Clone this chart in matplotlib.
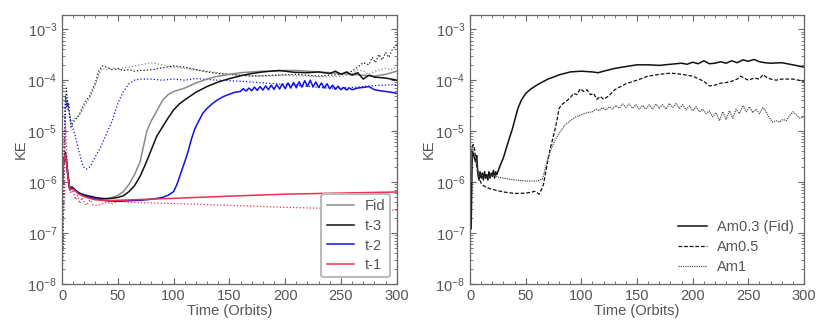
import matplotlib.pyplot as plt
from matplotlib.ticker import MultipleLocator, LogLocator

plt.rcParams['font.family'] = ['Liberation Sans', 'DejaVu Sans']
plt.rcParams['font.size'] = 10.5
plt.rcParams['text.color'] = '#555555'
plt.rcParams['axes.labelcolor'] = '#555555'
plt.rcParams['xtick.color'] = '#666666'
plt.rcParams['ytick.color'] = '#666666'
plt.rcParams['xtick.labelcolor'] = '#555555'
plt.rcParams['ytick.labelcolor'] = '#555555'

# ---- left panel: resolution runs (solid = KE, dotted = second quantity) ----
fid_t = [0, 1, 2, 3, 4, 5, 7, 9, 12, 15, 20, 25, 30, 35, 40, 45, 50, 55, 60, 65,
         70, 73, 76, 80, 85, 90, 95, 100, 110, 120, 130, 140, 150, 160, 170, 180,
         190, 200, 210, 220, 230, 240, 250, 260, 270, 280, 290, 300]
fid_ke = [8e-7, 2e-6, 3e-6, 3.5e-6, 2.5e-6, 1.5e-6, 7.5e-7, 8e-7, 7e-7, 6e-7,
          5.5e-7, 5e-7, 4.8e-7, 4.7e-7, 4.8e-7, 5e-7, 5.5e-7, 6.5e-7, 9e-7, 1.4e-6,
          2.5e-6, 5e-6, 1e-5, 1.6e-5, 2.5e-5, 4e-5, 5.2e-5, 6e-5, 7e-5, 8.8e-5,
          1.05e-4, 1.2e-4, 1.3e-4, 1.4e-4, 1.45e-4, 1.5e-4, 1.5e-4, 1.55e-4, 1.55e-4,
          1.5e-4, 1.45e-4, 1.4e-4, 1.35e-4, 1.3e-4, 1.25e-4, 1.2e-4, 1.3e-4, 1.5e-4]

t3_t = [0, 1, 2, 3, 4, 5, 7, 9, 12, 15, 20, 25, 30, 35, 40, 45, 50, 55, 60, 65,
        70, 75, 80, 85, 90, 95, 100, 105, 110, 120, 130, 140, 150, 160, 170, 180,
        190, 195, 200, 205, 210, 220, 230, 240, 245, 250, 255, 260, 265, 270, 275,
        280, 290, 300]
t3_ke = [8e-7, 2e-6, 3e-6, 3.8e-6, 2.7e-6, 1.6e-6, 7.5e-7, 8e-7, 7e-7, 6.2e-7,
         5.6e-7, 5.3e-7, 5e-7, 4.8e-7, 4.7e-7, 4.8e-7, 5e-7, 5.4e-7, 6.5e-7, 8.5e-7,
         1.3e-6, 2.3e-6, 4.3e-6, 8e-6, 1.2e-5, 1.8e-5, 2.6e-5, 3.4e-5, 4.1e-5, 5.8e-5,
         7.5e-5, 9.2e-5, 1.07e-4, 1.22e-4, 1.35e-4, 1.45e-4, 1.52e-4, 1.55e-4, 1.5e-4,
         1.45e-4, 1.42e-4, 1.4e-4, 1.45e-4, 1.35e-4, 1.5e-4, 1.3e-4, 1.45e-4, 1.25e-4,
         1.4e-4, 1.05e-4, 1.25e-4, 1.15e-4, 1.1e-4, 1.0e-4]

t2_t = [0, 1, 2, 3, 4, 5, 7, 9, 12, 15, 20, 25, 30, 35, 40, 50, 60, 70, 80, 90,
        95, 100, 103, 106, 110, 113, 116, 119, 122, 126, 130, 135, 140, 145, 150,
        155, 160, 162.5, 165, 167.5, 170, 172.5, 175, 177.5, 180, 182.5, 185, 187.5,
        190, 192.5, 195, 197.5, 200, 202.5, 205, 207.5, 210, 212.5, 215, 217.5, 220,
        222.5, 225, 227.5, 230, 232.5, 235, 237.5, 240, 242.5, 245, 247.5, 250,
        252.5, 255, 257.5, 260, 265, 270, 275, 280, 285, 290, 295, 300]
t2_ke = [8e-7, 2e-6, 3e-6, 3.5e-6, 2.5e-6, 1.5e-6, 7e-7, 7.5e-7, 6.8e-7, 6e-7,
         5.3e-7, 5e-7, 4.7e-7, 4.5e-7, 4.3e-7, 4.2e-7, 4.3e-7, 4.4e-7, 4.6e-7, 5e-7,
         5.5e-7, 6.5e-7, 9e-7, 1.4e-6, 2.5e-6, 4e-6, 7e-6, 1.1e-5, 1.5e-5, 2.2e-5,
         2.8e-5, 3.5e-5, 4.2e-5, 4.8e-5, 5.3e-5, 5.8e-5, 6.0e-5, 6.8e-5, 6.1e-5,
         7.0e-5, 6.2e-5, 7.3e-5, 6.3e-5, 7.5e-5, 6.4e-5, 7.7e-5, 6.5e-5, 8.0e-5,
         6.6e-5, 8.2e-5, 6.7e-5, 8.5e-5, 6.8e-5, 8.8e-5, 7.0e-5, 9.0e-5, 7.1e-5,
         9.3e-5, 7.3e-5, 9.8e-5, 7.5e-5, 1.0e-4, 7.4e-5, 9.2e-5, 7.2e-5, 8.8e-5,
         7.0e-5, 8.5e-5, 6.8e-5, 8.0e-5, 6.6e-5, 7.6e-5, 6.5e-5, 7.2e-5, 6.4e-5,
         7.0e-5, 6.5e-5, 7.0e-5, 7.2e-5, 7.5e-5, 6.5e-5, 6.2e-5, 6.0e-5, 5.8e-5, 5.5e-5]

t1_t = [0, 1, 2, 3, 4, 5, 7, 9, 12, 15, 20, 25, 30, 35, 40, 50, 75, 100, 150,
        200, 250, 300]
t1_ke = [8e-7, 2e-6, 3e-6, 3.5e-6, 2.5e-6, 1.5e-6, 7e-7, 7.5e-7, 6.7e-7, 5.8e-7,
         5.2e-7, 4.8e-7, 4.5e-7, 4.4e-7, 4.3e-7, 4.4e-7, 4.6e-7, 4.8e-7, 5.3e-7,
         5.8e-7, 6.1e-7, 6.4e-7]

fid_dot_t = [0, 1, 2, 3, 4, 5, 6, 7, 8, 10, 12, 15, 18, 20, 25, 30, 33, 36, 40,
             45, 50, 55, 60, 65, 70, 75, 80, 85, 90, 100, 110, 120, 130, 140, 150,
             160, 180, 200, 220, 240, 250, 260, 265, 270, 275, 280, 285, 290, 295, 300]
fid_dot = [1e-8, 1e-7, 2e-6, 2e-5, 4e-5, 2.5e-5, 3e-5, 2e-5, 1.5e-5, 1.7e-5,
           1.8e-5, 2e-5, 2.5e-5, 3e-5, 4.5e-5, 8e-5, 1.3e-4, 1.7e-4, 1.6e-4, 1.75e-4,
           1.6e-4, 1.75e-4, 1.8e-4, 1.9e-4, 2e-4, 2.1e-4, 2.2e-4, 2.1e-4, 2e-4, 1.8e-4,
           1.7e-4, 1.6e-4, 1.5e-4, 1.4e-4, 1.3e-4, 1.25e-4, 1.2e-4, 1.25e-4, 1.2e-4,
           1.15e-4, 1.2e-4, 1.3e-4, 1.6e-4, 1.5e-4, 1.3e-4, 1.5e-4, 1.6e-4, 1.7e-4,
           1.6e-4, 1.8e-4]

t3_dot_t = [0, 1, 2, 3, 4, 5, 6, 7, 8, 10, 12, 15, 18, 20, 25, 30, 33, 36, 40, 45,
            50, 55, 60, 65, 70, 80, 90, 100, 110, 120, 130, 140, 150, 170, 190, 210,
            230, 250, 260, 265, 270, 275, 278, 281, 284, 287, 290, 293, 296, 300]
t3_dot = [1e-8, 1e-7, 3e-6, 3e-5, 7e-5, 3e-5, 3.5e-5, 2e-5, 1.2e-5, 1.5e-5,
          1.7e-5, 2e-5, 2.8e-5, 3.5e-5, 5e-5, 9e-5, 1.5e-4, 1.9e-4, 1.8e-4, 1.6e-4,
          1.7e-4, 1.55e-4, 1.6e-4, 1.5e-4, 1.55e-4, 1.6e-4, 1.75e-4, 1.9e-4, 1.8e-4,
          1.6e-4, 1.45e-4, 1.35e-4, 1.3e-4, 1.2e-4, 1.25e-4, 1.3e-4, 1.2e-4, 1.3e-4,
          1.5e-4, 1.8e-4, 2.2e-4, 2e-4, 2.8e-4, 2.2e-4, 3.2e-4, 2.5e-4, 3.5e-4,
          2.8e-4, 4e-4, 5e-4]

t2_dot_t = [0, 1, 2, 3, 4, 5, 6, 8, 10, 12, 14, 16, 18, 20, 22, 25, 28, 30, 35,
            40, 45, 50, 55, 60, 65, 70, 80, 90, 100, 110, 120, 130, 140, 150, 170,
            190, 210, 230, 240, 250, 260, 270, 280, 290, 300]
t2_dot = [1e-8, 1e-7, 5e-6, 5e-5, 3e-5, 4e-5, 2.5e-5, 1.5e-5, 1.1e-5, 8e-6, 5e-6,
          3.5e-6, 2.3e-6, 1.9e-6, 1.8e-6, 2e-6, 2.6e-6, 3.2e-6, 5e-6, 9e-6, 1.6e-5,
          3.5e-5, 6e-5, 8.5e-5, 1.0e-4, 1.05e-4, 1.05e-4, 1.0e-4, 1.05e-4, 1.0e-4,
          1.08e-4, 1.03e-4, 1.0e-4, 9.8e-5, 9.2e-5, 8.5e-5, 8e-5, 7.2e-5, 7e-5, 7e-5,
          7.2e-5, 7.5e-5, 7.8e-5, 8e-5, 8.2e-5]

t1_dot_t = [0, 1, 2, 3, 4, 5, 6, 8, 10, 12, 14, 16, 18, 20, 22, 25, 28, 31, 35,
            40, 45, 50, 60, 80, 100, 150, 200, 250, 300]
t1_dot = [1e-8, 1e-7, 1e-6, 1.5e-5, 5e-6, 2e-6, 8e-7, 6e-7, 7e-7, 4.5e-7, 5.5e-7,
          3.8e-7, 5e-7, 4e-7, 3.5e-7, 4.5e-7, 3.6e-7, 3.5e-7, 3.7e-7, 4e-7, 3.8e-7,
          4.2e-7, 4e-7, 3.9e-7, 3.8e-7, 3.5e-7, 3.2e-7, 3e-7, 2.8e-7]

# ---- right panel: Am runs ----
am03_t = [0, 1, 2, 3, 4, 5, 6, 7, 8, 9, 10, 11, 12, 13, 14, 15, 16, 17, 18, 19,
          20, 21, 22, 23, 24, 25, 27, 30, 33, 36, 38, 40, 43, 46, 50, 55, 60, 65,
          70, 75, 80, 90, 100, 110, 115, 120, 130, 140, 150, 160, 170, 180, 190,
          195, 200, 205, 210, 215, 220, 225, 230, 235, 240, 245, 250, 255, 260, 265,
          270, 280, 290, 300]
am03 = [3e-6, 1.2e-7, 4e-6, 3.5e-6, 3e-6, 2.5e-6, 3.3e-6, 1.5e-6, 1.1e-6, 1.6e-6,
        1.2e-6, 1.5e-6, 1.1e-6, 1.6e-6, 1.2e-6, 1.4e-6, 1.1e-6, 1.6e-6, 1.2e-6,
        1.5e-6, 1.3e-6, 1.7e-6, 1.2e-6, 1.6e-6, 1.4e-6, 1.6e-6, 2.1e-6, 3e-6, 5e-6,
        8e-6, 1.1e-5, 1.6e-5, 2.8e-5, 4e-5, 5.5e-5, 6.8e-5, 8e-5, 9.2e-5, 1.05e-4,
        1.15e-4, 1.27e-4, 1.45e-4, 1.5e-4, 1.45e-4, 1.4e-4, 1.5e-4, 1.7e-4, 1.85e-4,
        2e-4, 2e-4, 1.95e-4, 2.05e-4, 2.15e-4, 2.05e-4, 2.25e-4, 2.1e-4, 2.4e-4,
        2.1e-4, 2.15e-4, 2.3e-4, 2.15e-4, 2.4e-4, 2.2e-4, 2.5e-4, 2.35e-4, 2.55e-4,
        2.3e-4, 2.2e-4, 2.15e-4, 2.2e-4, 2e-4, 1.8e-4]

am05_t = [0, 1, 2, 3, 4, 5, 6, 8, 10, 12, 15, 20, 25, 30, 35, 40, 45, 50, 55, 58,
          60, 62, 64, 66, 68, 70, 72, 74, 76, 78, 80, 83, 86, 90, 93, 96, 99, 102,
          105, 108, 111, 114, 117, 120, 125, 130, 140, 150, 160, 170, 180, 185, 190,
          200, 210, 215, 220, 225, 230, 235, 240, 243, 246, 250, 255, 260, 263, 266,
          270, 275, 280, 290, 300]
am05 = [3e-6, 4.5e-6, 5e-6, 5.5e-6, 4.5e-6, 3e-6, 2e-6, 1.2e-6, 9.5e-7, 8.5e-7,
        7.8e-7, 7.2e-7, 6.8e-7, 6.4e-7, 6.2e-7, 6e-7, 6e-7, 6.1e-7, 6.3e-7, 6.6e-7,
        6.3e-7, 5.8e-7, 7e-7, 9e-7, 1.6e-6, 2.7e-6, 4.5e-6, 6.7e-6, 1e-5, 1.6e-5,
        2.8e-5, 3.4e-5, 3.8e-5, 4.5e-5, 5.5e-5, 5.2e-5, 6.8e-5, 6e-5, 6.5e-5, 5.2e-5,
        5.5e-5, 4.2e-5, 4.8e-5, 4.2e-5, 5e-5, 6.5e-5, 8.5e-5, 1.0e-4, 1.2e-4, 1.3e-4,
        1.37e-4, 1.35e-4, 1.3e-4, 1.2e-4, 9.5e-5, 7.7e-5, 8e-5, 8.7e-5, 9e-5, 9.5e-5,
        1.05e-4, 1.2e-4, 1.1e-4, 1.0e-4, 1.1e-4, 1.05e-4, 1.28e-4, 1.15e-4, 1.05e-4,
        1.0e-4, 1.05e-4, 1.05e-4, 9.5e-5]

am1_t = [0, 1, 2, 3, 5, 8, 10, 15, 20, 25, 30, 40, 50, 60, 65, 68, 70, 73, 76, 80,
         85, 90, 95, 100, 105, 110, 113, 116, 119, 122, 125, 128, 131, 134, 137,
         140, 143, 146, 149, 152, 155, 158, 161, 164, 167, 170, 173, 176, 179, 182,
         185, 188, 191, 194, 197, 200, 203, 206, 209, 212, 215, 218, 221, 224, 227,
         230, 233, 236, 239, 242, 245, 248, 251, 254, 257, 260, 263, 266, 269, 272,
         275, 278, 281, 284, 287, 290, 293, 296, 300]
am1 = [3e-6, 1e-6, 5e-6, 4e-6, 3e-6, 1.3e-6, 1.4e-6, 1.2e-6, 1.4e-6, 1.25e-6,
       1.2e-6, 1.1e-6, 1.05e-6, 1.05e-6, 1.15e-6, 2e-6, 3e-6, 4.5e-6, 6.5e-6, 9e-6,
       1.3e-5, 1.6e-5, 1.9e-5, 2.1e-5, 2.3e-5, 2.4e-5, 2.7e-5, 2.5e-5, 2.9e-5,
       2.6e-5, 3.0e-5, 2.7e-5, 3.2e-5, 2.8e-5, 3.4e-5, 2.9e-5, 3.4e-5, 2.8e-5,
       3.3e-5, 2.7e-5, 3.2e-5, 2.7e-5, 3.3e-5, 2.7e-5, 3.4e-5, 2.8e-5, 3.3e-5,
       2.7e-5, 3.5e-5, 2.9e-5, 3.5e-5, 2.8e-5, 3.3e-5, 2.6e-5, 3.1e-5, 2.5e-5,
       3.0e-5, 2.4e-5, 2.7e-5, 2.2e-5, 2.5e-5, 1.9e-5, 2.3e-5, 1.6e-5, 2.4e-5,
       1.7e-5, 2.5e-5, 1.8e-5, 2.7e-5, 2.2e-5, 3.2e-5, 2.4e-5, 3.0e-5, 2.3e-5,
       2.7e-5, 2.2e-5, 2.9e-5, 2.4e-5, 1.8e-5, 1.5e-5, 1.6e-5, 1.5e-5, 1.7e-5,
       1.6e-5, 2.0e-5, 2.4e-5, 2.1e-5, 1.8e-5, 1.9e-5]

GRAY = '#8a8a8a'
BLACK = '#111111'
BLUE = '#1010e8'
RED = '#e8304f'

fig = plt.figure(figsize=(8.3, 3.33), dpi=100)
ax1 = fig.add_axes([0.0747, 0.147, 0.4033, 0.808])
ax2 = fig.add_axes([0.5663, 0.147, 0.4024, 0.808])

# dotted curves first, solid curves on top
ax1.plot(fid_dot_t, fid_dot, ls=':', color=GRAY, lw=0.9)
ax1.plot(t3_dot_t, t3_dot, ls=':', color=BLACK, lw=0.9)
ax1.plot(t2_dot_t, t2_dot, ls=':', color=BLUE, lw=0.9)
ax1.plot(t1_dot_t, t1_dot, ls=':', color=RED, lw=0.9)

ax1.plot(fid_t, fid_ke, color=GRAY, lw=1.1, label='Fid')
ax1.plot(t3_t, t3_ke, color=BLACK, lw=1.1, label='t-3')
ax1.plot(t2_t, t2_ke, color=BLUE, lw=1.1, label='t-2')
ax1.plot(t1_t, t1_ke, color=RED, lw=1.1, label='t-1')

ax2.plot(am03_t, am03, color=BLACK, lw=1.1, label='Am0.3 (Fid)')
ax2.plot(am05_t, am05, color=BLACK, lw=0.9, ls=(0, (3, 1.5)), label='Am0.5')
ax2.plot(am1_t, am1, color='#555555', lw=0.9, ls=(0, (1, 0.8)), label='Am1')

for ax in (ax1, ax2):
    ax.set_yscale('log')
    ax.set_xlim(0, 300)
    ax.set_ylim(1e-8, 1.9e-3)
    ax.xaxis.set_major_locator(MultipleLocator(50))
    ax.xaxis.set_minor_locator(MultipleLocator(10))
    ax.yaxis.set_major_locator(LogLocator(base=10, numticks=10))
    ax.yaxis.set_minor_locator(LogLocator(base=10, subs=range(2, 10), numticks=10))
    ax.tick_params(which='both', direction='in', top=True, right=True)
    ax.tick_params(which='major', length=4, width=0.8, labelsize=10.5)
    ax.tick_params(which='minor', length=2, width=0.6)
    for s in ax.spines.values():
        s.set_color('#666666')
        s.set_linewidth(0.9)
    ax.set_xlabel('Time (Orbits)', fontsize=10.5, labelpad=1)
    ax.set_ylabel('KE', fontsize=10.5, labelpad=0)

leg1 = ax1.legend(loc='lower right', fontsize=10.5, frameon=True, fancybox=True,
                  handlelength=1.9, borderaxespad=0.45, labelspacing=0.4,
                  handletextpad=0.7, borderpad=0.35)
leg1.get_frame().set_edgecolor('#bbbbbb')
leg1.get_frame().set_linewidth(1.5)
leg1.get_frame().set_alpha(1.0)

ax2.legend(loc='lower right', fontsize=10.5, frameon=False, handlelength=2.0,
           borderaxespad=0.3, labelspacing=0.4, handletextpad=0.7)

fig.savefig('out.png', dpi=100)
